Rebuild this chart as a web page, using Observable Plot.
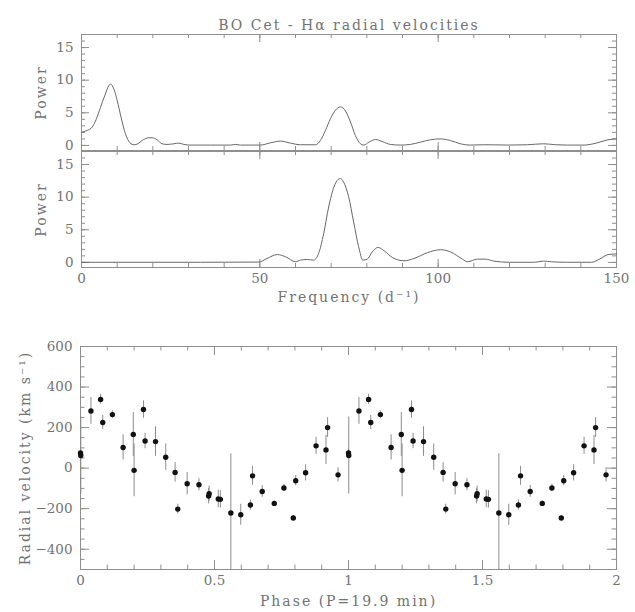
<!DOCTYPE html>
<html><head><meta charset="utf-8">
<script src="https://cdn.jsdelivr.net/npm/d3@7"></script>
<script src="https://cdn.jsdelivr.net/npm/@observablehq/plot@0.6"></script>
<style>
body{margin:0;background:#fff;}
#wrap{position:relative;width:635px;height:612px;overflow:hidden;}
#wrap > svg{position:absolute;left:0;}
#wrap g[aria-label="text"] text{letter-spacing:2px;}
</style></head><body><div id="wrap"></div>
<script>
const title = "BO Cet - H\u03b1 radial velocities";
const powerLabel = "Power";
const freqLabel = "Frequency (d\u207b\u00b9)";
const phaseLabel = "Phase (P=19.9 min)";
const rvLabel = "Radial velocity (km s\u207b\u00b9)";

// Top periodogram
const freq1  = [0,1.6,3.0,4.2,5.3,6.5,7.7,8.1,9.1,10.0,11.1,12.3,13.6,14.7,15.8,17.0,18.9,19.8,21.2,22.6,24.0,25.9,27.3,28.7,30.6,36.2,41.8,43.2,44.6,50.2,53.0,55.8,58.6,61.4,65.6,67.0,68.4,69.8,71.2,72.6,74.0,75.4,76.8,78.2,79.2,80.6,82.4,84.3,86.6,89.4,92.2,95.0,97.8,100.6,103.4,106.2,109.0,112.8,116.5,119.8,125.0,129.6,133.0,136.3,140.9,144.3,147.6,150];
const power1 = [2.0,2.3,2.8,4.1,5.8,7.6,9.2,9.4,8.6,6.9,4.3,1.8,0.4,0.1,0.25,0.76,1.17,1.17,0.86,0.25,0.15,0.25,0.35,0.15,0.05,0.05,0.05,0.15,0.05,0.05,0.4,0.66,0.35,0.1,0.1,0.76,2.3,4.1,5.4,5.9,5.3,3.6,1.5,0.25,0.05,0.5,0.9,0.6,0.15,0.05,0.15,0.5,0.86,1.0,0.76,0.25,0.05,0.1,0.08,0.05,0.1,0.25,0.1,0.05,0.05,0.35,0.86,1.0];

// Bottom periodogram
const freq2  = [0,33.4,49.7,52.0,54.9,57.2,60.0,61.4,63.3,65.1,66.5,67.9,69.3,70.8,71.9,72.6,73.5,74.9,76.3,77.7,78.9,80.1,81.5,83.2,84.8,87.1,90.4,93.2,97.0,100.7,103.5,106.8,108.2,111.0,113.3,115.6,119.9,127.0,129.5,131.7,136.0,143.0,145.4,147.6,150];
const power2 = [0.02,0.02,0.05,0.6,1.2,0.87,0.1,0.35,0.45,0.35,1.4,4.4,8.5,11.6,12.7,12.85,12.3,10.05,6.2,2.4,0.35,0.5,1.6,2.3,1.8,0.77,0.25,0.6,1.5,1.95,1.6,0.5,0.1,0.5,0.5,0.2,0.02,0.02,0.2,0.1,0.02,0.02,0.55,1.2,1.3];

// Radial velocities (one cycle; drawn twice)
const phase = [0.000,0.001,0.039,0.075,0.083,0.119,0.159,0.197,0.200,0.235,0.241,0.280,0.318,0.353,0.363,0.398,0.442,0.478,0.480,0.514,0.522,0.561,0.598,0.634,0.642,0.678,0.723,0.759,0.794,0.803,0.840,0.879,0.916,0.922,0.961];
const rv    = [75,62,282,339,225,264,102,166,-11,289,134,131,54,-21,-202,-77,-82,-138,-126,-152,-154,-221,-230,-182,-38,-115,-174,-98,-246,-62,-23,110,90,200,-33];
const rvErr = [20,190,66,25,35,18,62,108,130,43,38,73,65,48,24,55,30,38,38,43,43,292,52,25,47,29,12,18,12,25,40,42,72,49,35];

// Tick values
const freqTicks = [0,10,20,30,40,50,60,70,80,90,100,110,120,130,140,150];
const freqMajor = [0,50,100,150];
const powerTicks = [0,1,2,3,4,5,6,7,8,9,10,11,12,13,14,15,16];
const powerMajor = [0,5,10,15];
const phaseTicks = [0,0.1,0.2,0.3,0.4,0.5,0.6,0.7,0.8,0.9,1,1.1,1.2,1.3,1.4,1.5,1.6,1.7,1.8,1.9,2];
const phaseMajor = [0,0.5,1,1.5,2];
const rvTicks = [-500,-450,-400,-350,-300,-250,-200,-150,-100,-50,0,50,100,150,200,250,300,350,400,450,500,550,600];
const rvMajor = [-400,-200,0,200,400,600];

const FONT = "DejaVu Serif";
const TXT = "#737373";
const LINE = "#8f8f8f";
const CURVE = "#686868";
const W = 635;
const fmt = d3.format("~g");

function frameTicks(xMinor, xMajor, yMinor, yMajor, iw, ih, minor, major) {
  const s = {stroke: LINE, strokeWidth: 1};
  return [
    Plot.tickX(xMinor, {x: d => d, insetTop: ih - minor, ...s}),
    Plot.tickX(xMinor, {x: d => d, insetBottom: ih - minor, ...s}),
    Plot.tickX(xMajor, {x: d => d, insetTop: ih - major, ...s}),
    Plot.tickX(xMajor, {x: d => d, insetBottom: ih - major, ...s}),
    Plot.tickY(yMinor, {y: d => d, insetRight: iw - minor, ...s}),
    Plot.tickY(yMinor, {y: d => d, insetLeft: iw - minor, ...s}),
    Plot.tickY(yMajor, {y: d => d, insetRight: iw - major, ...s}),
    Plot.tickY(yMajor, {y: d => d, insetLeft: iw - major, ...s})
  ];
}

const style = {fontFamily: FONT, fontSize: "13px", color: TXT, background: "transparent", overflow: "visible"};
const wrap = document.getElementById("wrap");
function place(svg, top) { svg.style.top = top + "px"; wrap.appendChild(svg); }

const pDomain = [-0.78, 17.0];
const d1 = freq1.map((f, i) => ({f, p: power1[i]}));
const d2 = freq2.map((f, i) => ({f, p: power2[i]}));
const LBL = {fontSize: 14, fill: TXT, fontFamily: FONT, textAnchor: "middle"};

// Panel 1
{
  const mt = 34, mb = 2, ml = 81, mr = 19, H = 152;
  const iw = W - ml - mr, ih = H - mt - mb;
  const svg = Plot.plot({
    width: W, height: H, marginTop: mt, marginBottom: mb, marginLeft: ml, marginRight: mr,
    style,
    x: {domain: [0, 150], axis: null},
    y: {domain: pDomain},
    marks: [
      Plot.frame({stroke: LINE, strokeWidth: 1}),
      ...frameTicks(freqTicks, freqMajor, powerTicks, powerMajor, iw, ih, 4, 8),
      Plot.line(d1, {x: "f", y: "p", curve: "monotone-x", stroke: CURVE, strokeWidth: 1}),
      Plot.axisY(powerMajor, {tickSize: 0, tickPadding: 8, label: null, fontSize: 13.5, tickFormat: fmt}),
      Plot.text([title], {frameAnchor: "top", dy: -14, ...LBL}),
      Plot.text([powerLabel], {frameAnchor: "left", dx: -40, rotate: -90, ...LBL})
    ]
  });
  place(svg, 0);
}

// Panel 2
{
  const mt = 1, mb = 53, ml = 81, mr = 19, H = 170;
  const iw = W - ml - mr, ih = H - mt - mb;
  const svg = Plot.plot({
    width: W, height: H, marginTop: mt, marginBottom: mb, marginLeft: ml, marginRight: mr,
    style,
    x: {domain: [0, 150]},
    y: {domain: pDomain},
    marks: [
      Plot.frame({stroke: LINE, strokeWidth: 1}),
      ...frameTicks(freqTicks, freqMajor, powerTicks, powerMajor, iw, ih, 4, 8),
      Plot.line(d2, {x: "f", y: "p", curve: "monotone-x", stroke: CURVE, strokeWidth: 1}),
      Plot.axisY(powerMajor, {tickSize: 0, tickPadding: 8, label: null, fontSize: 13.5, tickFormat: fmt}),
      Plot.axisX(freqMajor, {tickSize: 0, tickPadding: 6, label: null, fontSize: 13.5, tickFormat: fmt}),
      Plot.text([powerLabel], {frameAnchor: "left", dx: -40, rotate: -90, ...LBL}),
      Plot.text([freqLabel], {frameAnchor: "bottom", dy: 34, ...LBL})
    ]
  });
  place(svg, 150);
}

// Panel 3: radial velocity curve
{
  const mt = 46, mb = 43, ml = 80, mr = 19, H = 312;
  const iw = W - ml - mr, ih = H - mt - mb;
  const one = phase.map((ph, i) => ({ph, v: rv[i], e: rvErr[i]}));
  const both = one.concat(one.map(d => ({...d, ph: d.ph + 1})));
  const svg = Plot.plot({
    width: W, height: H, marginTop: mt, marginBottom: mb, marginLeft: ml, marginRight: mr,
    style,
    x: {domain: [0, 2]},
    y: {domain: [-500, 600]},
    marks: [
      Plot.frame({stroke: LINE, strokeWidth: 1}),
      ...frameTicks(phaseTicks, phaseMajor, rvTicks, rvMajor, iw, ih, 4.5, 9),
      Plot.ruleX(both, {x: "ph", y1: d => d.v - d.e, y2: d => d.v + d.e, stroke: "#8c8c8c", strokeWidth: 1, clip: true}),
      Plot.dot(both, {x: "ph", y: "v", r: 2.7, fill: "#111", stroke: null}),
      Plot.axisY(rvMajor, {tickSize: 0, tickPadding: 8, label: null, fontSize: 13.5, tickFormat: fmt}),
      Plot.axisX(phaseMajor, {tickSize: 0, tickPadding: 6, label: null, fontSize: 13.5, tickFormat: fmt}),
      Plot.text([rvLabel], {frameAnchor: "left", dx: -55, rotate: -90, ...LBL}),
      Plot.text([phaseLabel], {frameAnchor: "bottom", dy: 36, ...LBL})
    ]
  });
  place(svg, 300);
}
</script></body></html>
